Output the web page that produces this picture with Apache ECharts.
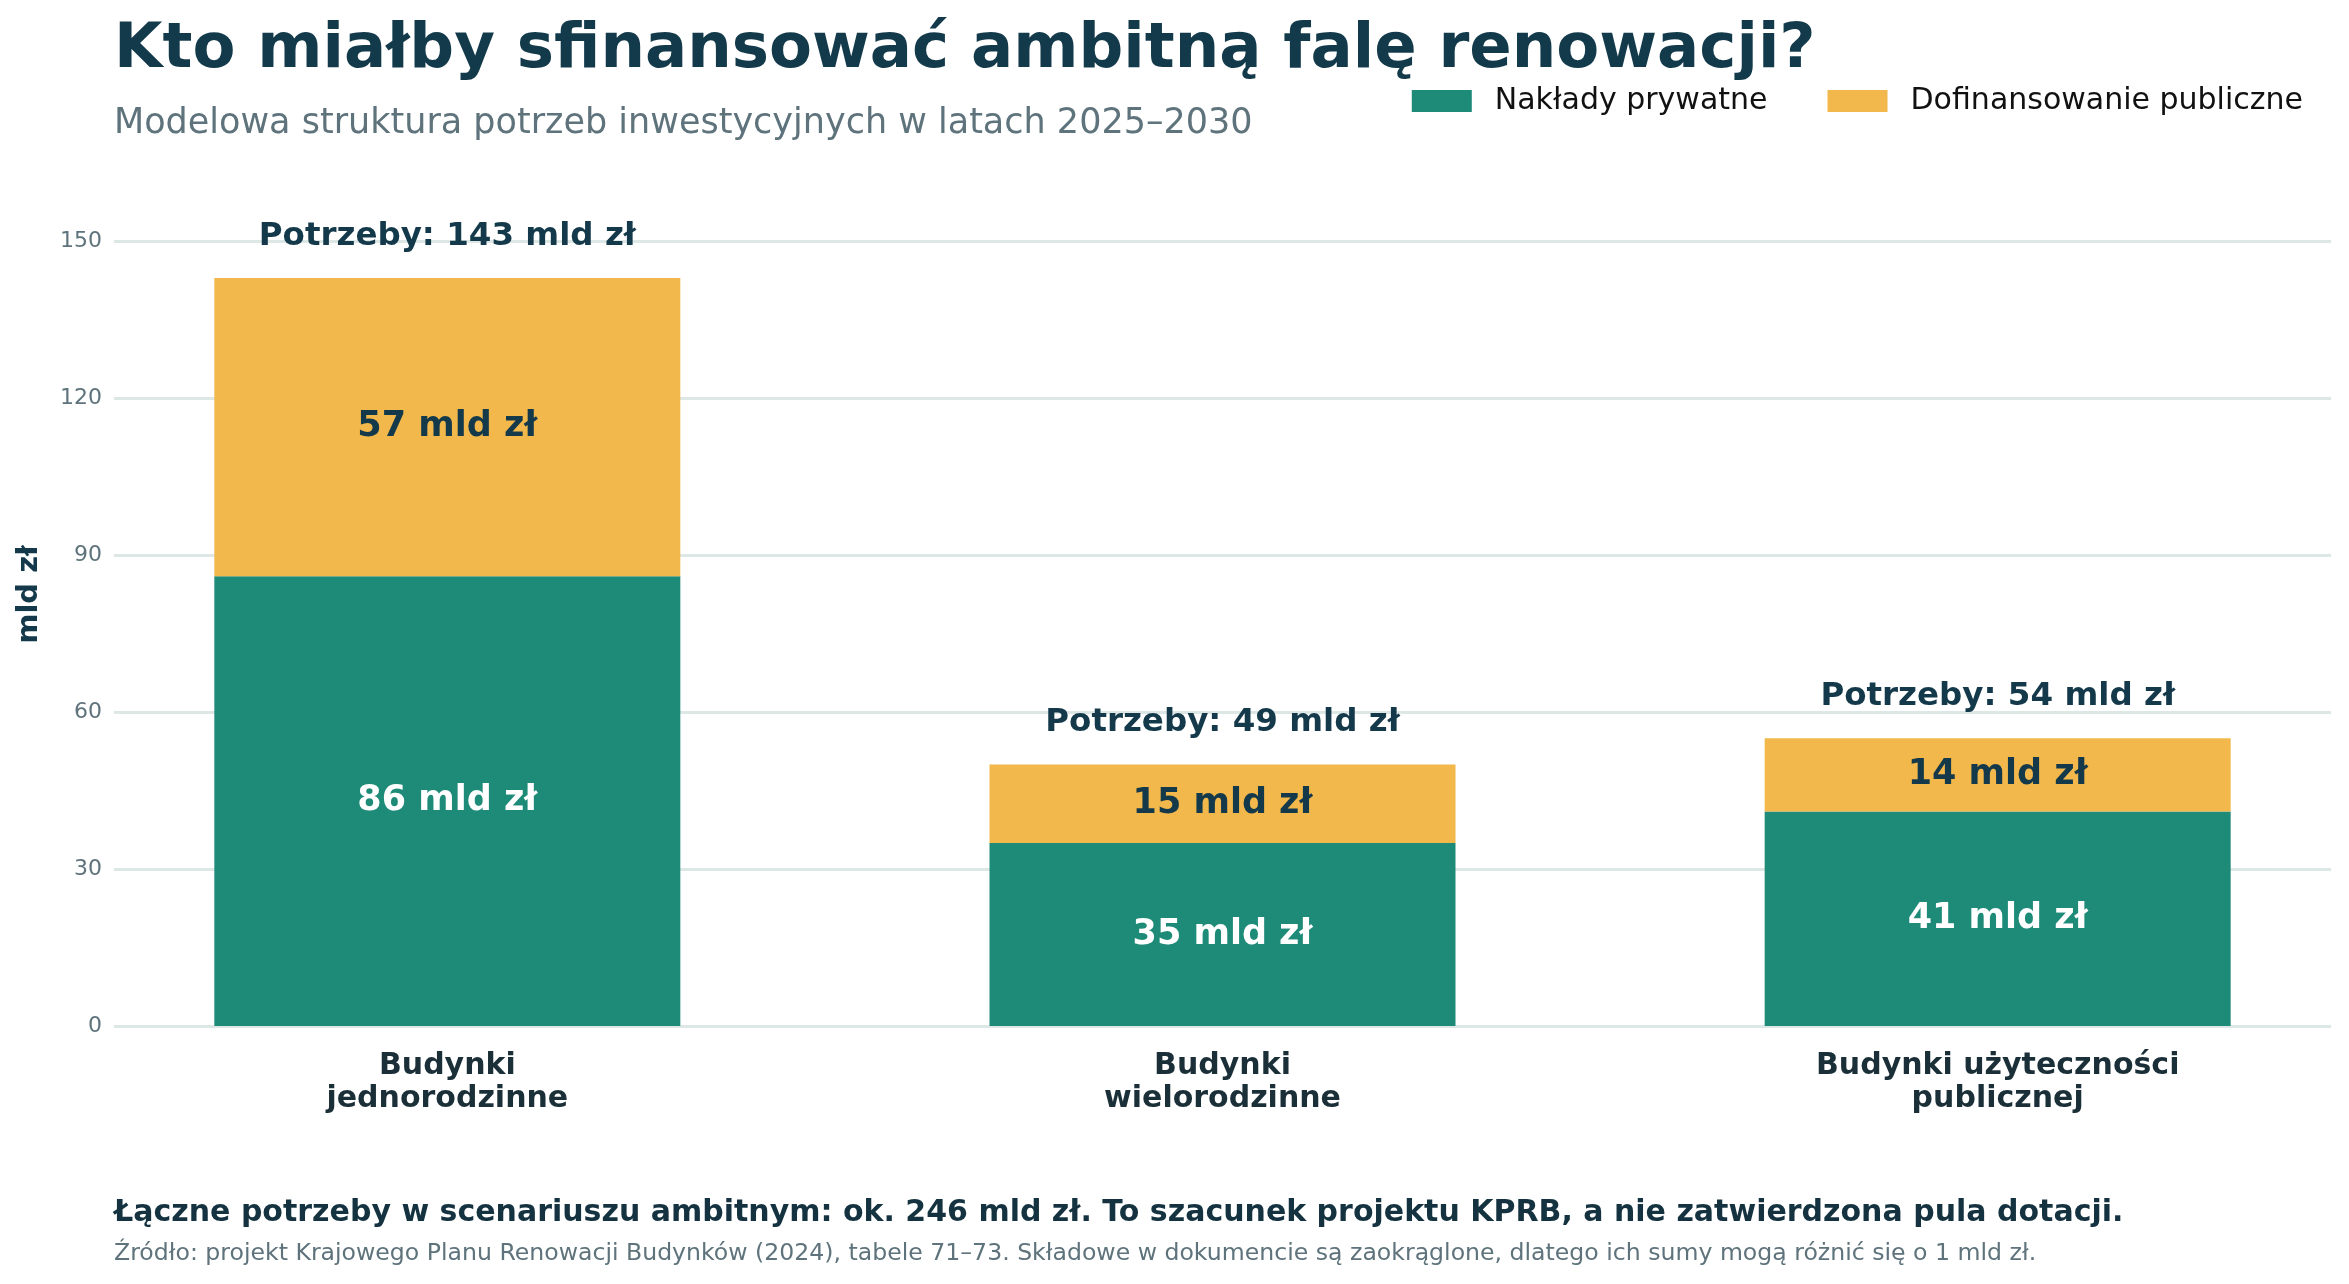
<!DOCTYPE html>
<html>
<head>
<meta charset="utf-8">
<script src="https://cdn.jsdelivr.net/npm/echarts@6/dist/echarts.min.js"></script>
<style>
  html, body { margin: 0; padding: 0; background: #ffffff; }
  #chart { width: 2349px; height: 1284px; }
</style>
</head>
<body>
<div id="chart"></div>
<script>
// kategorie budynków
var categories = ['Budynki\njednorodzinne', 'Budynki\nwielorodzinne', 'Budynki użyteczności\npublicznej'];
// nakłady prywatne (mld zł)
var privateValues = [86, 35, 41];
// dofinansowanie publiczne (mld zł)
var publicValues = [57, 15, 14];
// potrzeby łącznie wg dokumentu (mld zł)
var needsValues = [143, 49, 54];
// podziałka osi Y
var yTicks = [0, 30, 60, 90, 120, 150];

var FONT = '"DejaVu Sans", "Noto Sans", sans-serif';
var DARK = '#14394a';

var chart = echarts.init(document.getElementById('chart'), null, { renderer: 'canvas' });

// wartość w pierwszym wymiarze, żeby stos liczył się po osi Y
function toPoints(arr) {
	return arr.map(function (v, i) { return [v, i]; });
}

var option = {
	backgroundColor: '#ffffff',
	animation: false,
	textStyle: { fontFamily: FONT },
	title: [{
		// tytuł
		text: 'Kto miałby sfinansować ambitną falę renowacji?',
		left: 114, top: 19, padding: 0,
		textStyle: { fontFamily: FONT, fontSize: 62.6, fontWeight: 'bold', color: '#133a4a' }
	}, {
		// podtytuł
		text: 'Modelowa struktura potrzeb inwestycyjnych w latach 2025–2030',
		left: 114, top: 106, padding: 0,
		textStyle: { fontFamily: FONT, fontSize: 35, fontWeight: 'normal', color: '#5e737b' }
	}, {
		// podsumowanie
		text: 'Łączne potrzeby w scenariuszu ambitnym: ok. 246 mld zł. To szacunek projektu KPRB, a nie zatwierdzona pula dotacji.',
		left: 114, top: 1198, padding: 0,
		textStyle: { fontFamily: FONT, fontSize: 30, fontWeight: 'bold', color: '#14323f' }
	}, {
		// źródło
		text: 'Źródło: projekt Krajowego Planu Renowacji Budynków (2024), tabele 71–73. Składowe w dokumencie są zaokrąglone, dlatego ich sumy mogą różnić się o 1 mld zł.',
		left: 114, top: 1242, padding: 0,
		textStyle: { fontFamily: FONT, fontSize: 23.6, fontWeight: 'normal', color: '#5e737b' }
	}],
	legend: {
		data: ['Nakłady prywatne', 'Dofinansowanie publiczne'],
		right: 41, top: 81,
		itemWidth: 60, itemHeight: 22, itemGap: 60,
		icon: 'rect',
		textStyle: { fontFamily: FONT, fontSize: 30, color: '#111111', padding: [0, 0, 0, 18] }
	},
	grid: { left: 114, right: 18, top: 163, bottom: 258, containLabel: false },
	xAxis: {
		type: 'value',
		min: -0.43, max: 2.43,
		axisLine: { show: false },
		axisTick: { show: false },
		splitLine: { show: false },
		axisLabel: {
			customValues: [0, 1, 2],
			formatter: function (v) { return categories[Math.round(v)]; },
			fontFamily: FONT, fontSize: 30, fontWeight: 'bold', color: '#1b2f38',
			lineHeight: 33, margin: 24, align: 'center'
		}
	},
	yAxis: {
		type: 'value',
		min: yTicks[0], max: 165, interval: 30,
		name: 'mld zł',
		nameLocation: 'middle', nameGap: 70, nameRotate: 90,
		nameTextStyle: { fontFamily: FONT, fontSize: 29, fontWeight: 'bold', color: DARK },
		axisLine: { show: false },
		axisTick: { show: false },
		axisLabel: {
			showMaxLabel: false,
			fontFamily: FONT, fontSize: 22, color: '#5e737b', margin: 12
		},
		splitLine: { show: true, showMaxLine: false, lineStyle: { color: '#dde7e6', width: 3 } }
	},
	series: [{
		name: 'Nakłady prywatne',
		type: 'bar', stack: 'total', barWidth: 466,
		encode: { x: 1, y: 0 },
		itemStyle: { color: '#1e8a78' },
		label: {
			show: true, position: 'inside',
			formatter: function (p) { return p.value[0] + ' mld zł'; },
			fontFamily: FONT, fontSize: 35, fontWeight: 'bold', color: '#ffffff'
		},
		data: toPoints(privateValues)
	}, {
		name: 'Dofinansowanie publiczne',
		type: 'bar', stack: 'total', barWidth: 466,
		encode: { x: 1, y: 0 },
		itemStyle: { color: '#f2b84b' },
		label: {
			show: true, position: 'inside',
			formatter: function (p) { return p.value[0] + ' mld zł'; },
			fontFamily: FONT, fontSize: 35, fontWeight: 'bold', color: DARK
		},
		data: toPoints(publicValues)
	}, {
		// etykiety potrzeb nad słupkami
		name: 'Potrzeby',
		type: 'bar', stack: 'total', barWidth: 466,
		encode: { x: 1, y: 0 },
		itemStyle: { color: 'rgba(0,0,0,0)' },
		label: {
			show: true, position: 'top', distance: 25,
			formatter: function (p) { return 'Potrzeby: ' + needsValues[p.dataIndex] + ' mld zł'; },
			fontFamily: FONT, fontSize: 32.5, fontWeight: 'bold', color: DARK
		},
		data: needsValues.map(function (v, i) { return [0, i]; })
	}]
};

chart.setOption(option);
</script>
</body>
</html>
